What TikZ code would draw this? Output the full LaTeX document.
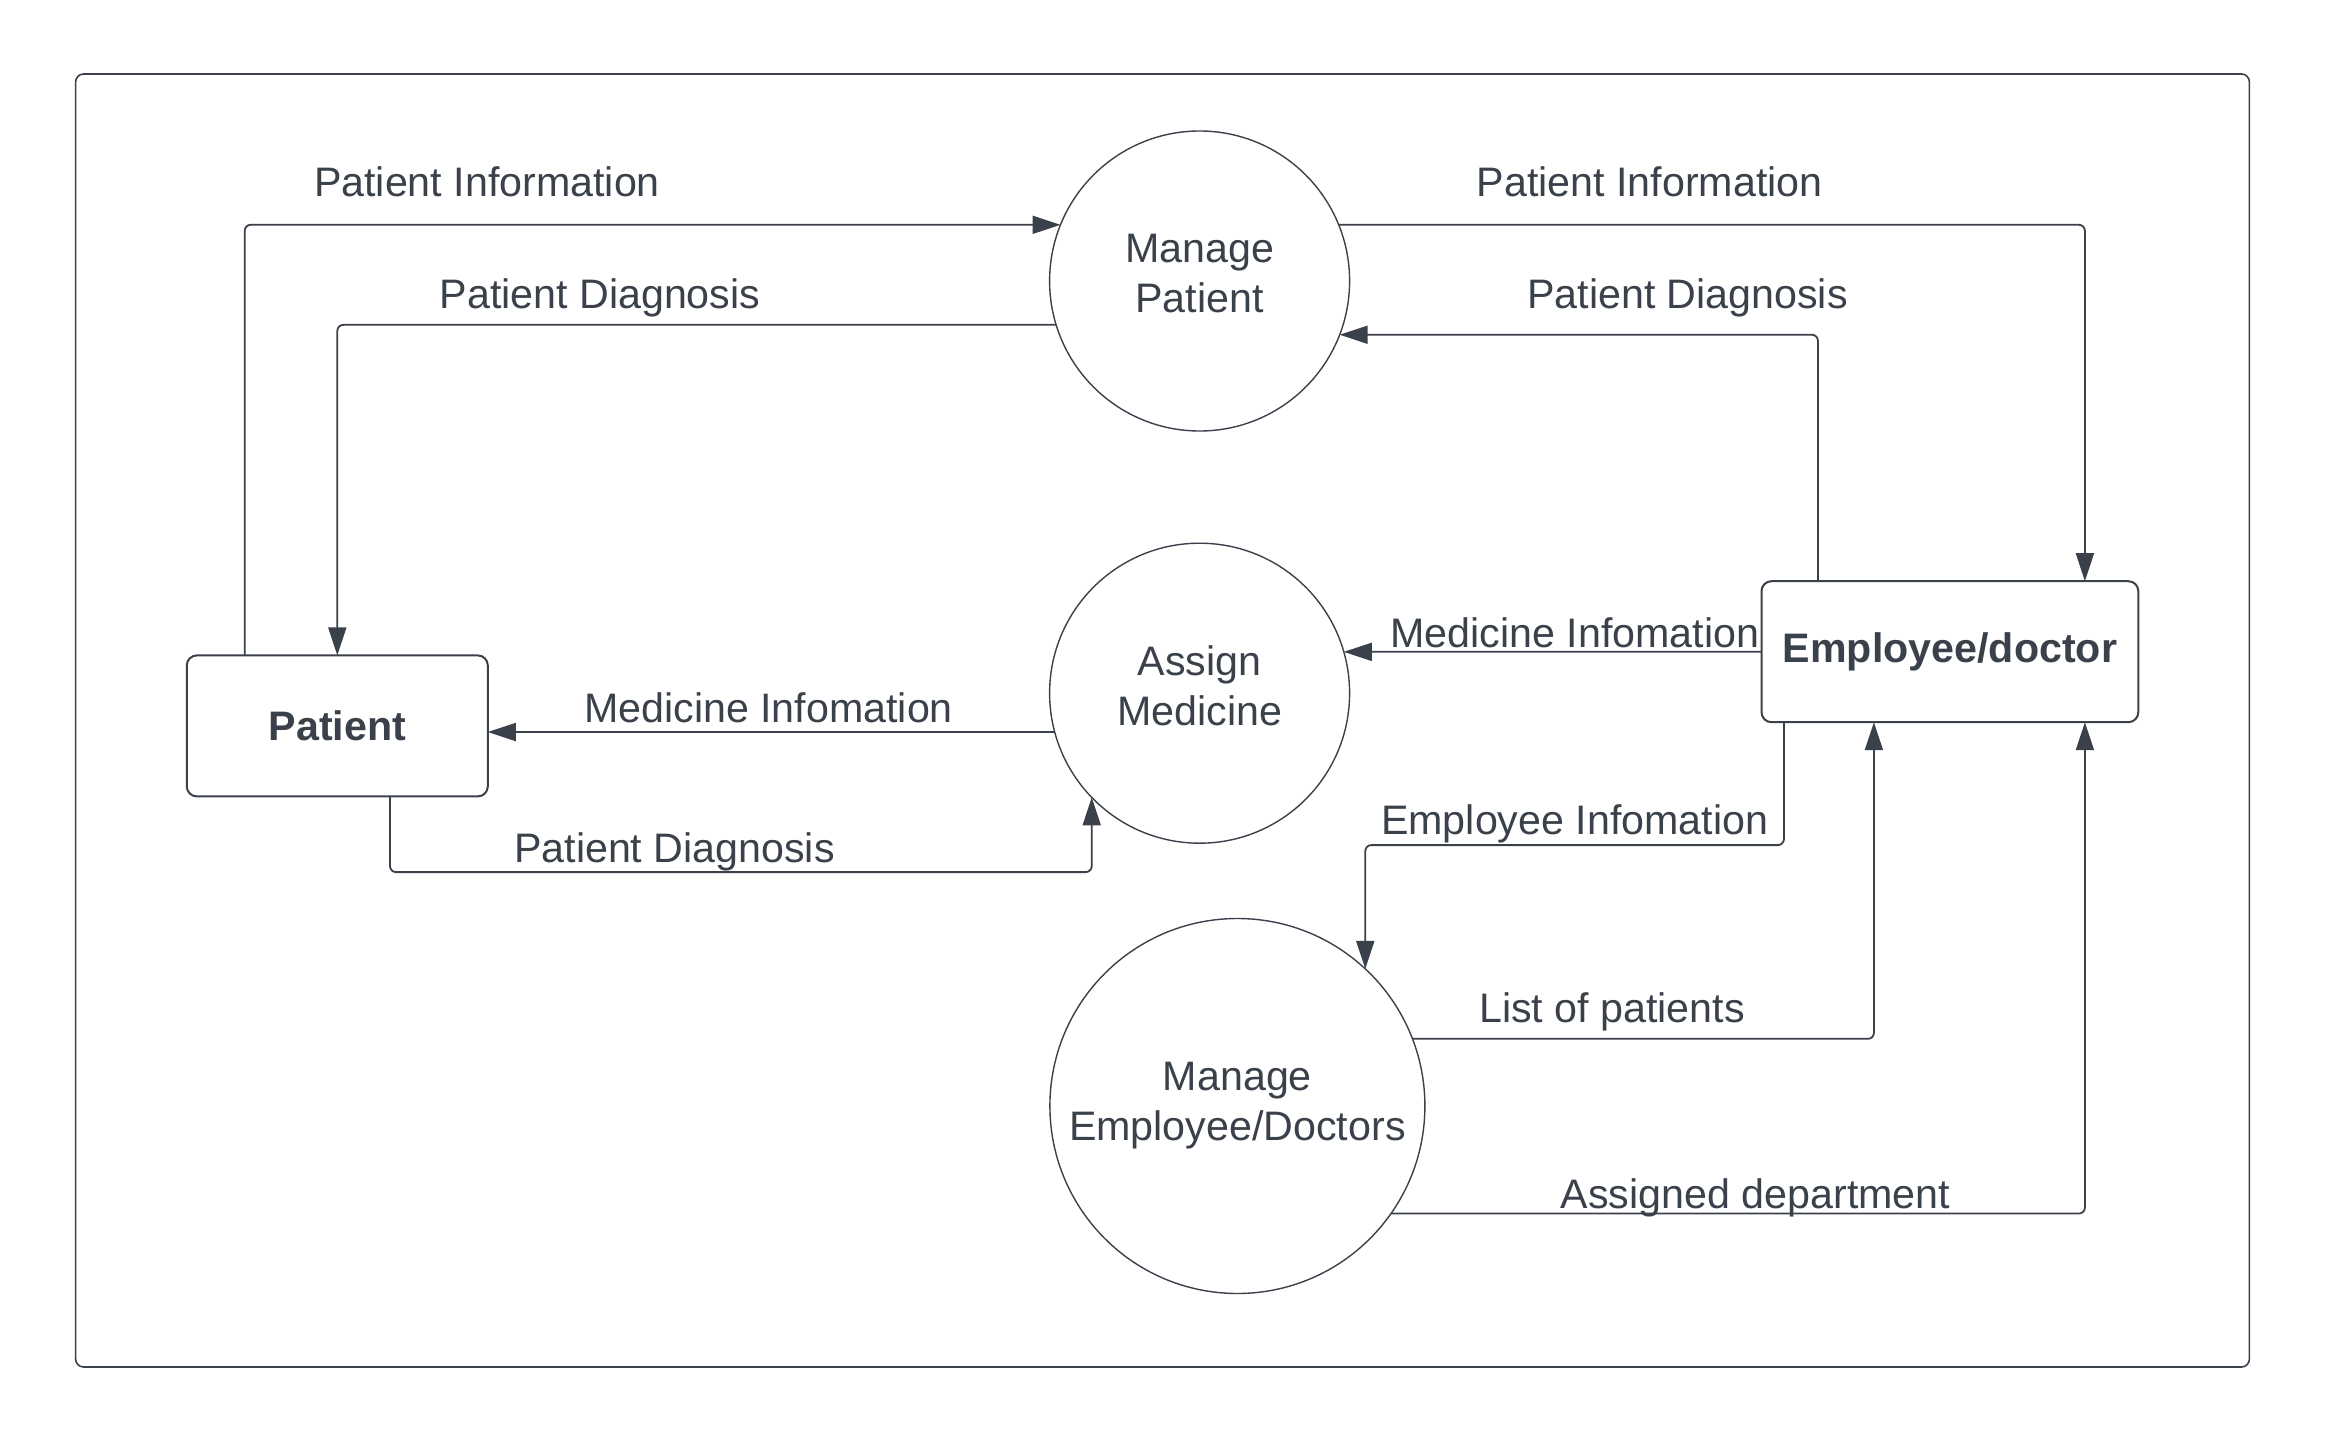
\documentclass[tikz,border=0pt]{standalone}
\usepackage{fontspec}
\setmainfont{Liberation Sans}
\usetikzlibrary{arrows.meta, positioning, calc}
\definecolor{cink}{HTML}{3A414A}
\tikzset{
  every picture/.style={font=\fontsize{20.6}{25}\selectfont, line width=0.9pt, color=cink},
  proc/.style={circle, draw=cink, line width=0.7pt, minimum size=#1, inner sep=0pt, outer sep=0pt, align=center},
  entity/.style={draw=cink, rounded corners=5pt, line width=1pt, minimum width=#1, minimum height=70.5pt, inner sep=0pt, outer sep=0pt, font=\fontsize{20.6}{25}\selectfont\bfseries},
  flow/.style={-{Triangle[length=14pt, width=9pt]}, draw=cink, line width=0.9pt, rounded corners=3pt},
  flowtext/.style={anchor=base},
}
\begin{document}
\begin{tikzpicture}[x=0.5pt, y=-0.5pt]
  \useasboundingbox (0,0) rectangle (2325,1444);
  \draw[line width=0.8pt, rounded corners=4pt] (75.6,74) rectangle (2249.4,1367);
  \node[proc=150pt, text depth=8pt] (mp) at (1199.6,281) {Manage\\Patient};
  \node[proc=150pt, text depth=8pt] (am) at (1199.6,693.2) {Assign\\Medicine};
  \node[proc=187.5pt] (me) at (1237.4,1106) {Manage\\Employee/Doctors};
  \node[entity=150.5pt] (pat) at (337.3,725.9) {Patient};
  \node[entity=188.4pt] (emp) at (1949.9,651.7) {Employee/doctor};
  \draw[flow] ([xshift=-46.3pt]pat.north) |- (mp.158);
  \draw[flow] (mp.197) -| (pat.north);
  \draw[flow] (mp.22) -| ([xshift=67.5pt]emp.north);
  \draw[flow] ([xshift=-66pt]emp.north) |- (mp.-21);
  \draw[flow] (emp.west) -- (am.16);
  \draw[flow] (am.195) -- (am.195 -| pat.east);
  \draw[flow] ([xshift=26.35pt]pat.south) -- ++(0,75.7) -| (am.224);
  \draw[flow] ([xshift=-83pt]emp.south) -- ++(0,122.9) -| (me.47);
  \draw[flow] (me.21) -| ([xshift=-38pt]emp.south);
  \draw[flow] (me.-35) -| ([xshift=67.5pt]emp.south);
  \node[flowtext] (t1) at (487,197) {Patient Information};
  \node[flowtext] (t2) at (600,309) {Patient Diagnosis};
  \node[flowtext] (t3) at (1649.6,197) {Patient Information};
  \node[flowtext] (t4) at (1687.5,309) {Patient Diagnosis};
  \node[flowtext] (t5) at (1575,647) {Medicine Infomation};
  \node[flowtext] (t6) at (768.6,722) {Medicine Infomation};
  \node[flowtext] (t7) at (674.5,862) {Patient Diagnosis};
  \node[flowtext] (t8) at (1574.7,834) {Employee Infomation};
  \node[flowtext] (t9) at (1612,1022) {List of patients};
  \node[flowtext] (t10) at (1755.5,1208) {Assigned department};
\end{tikzpicture}
\end{document}
